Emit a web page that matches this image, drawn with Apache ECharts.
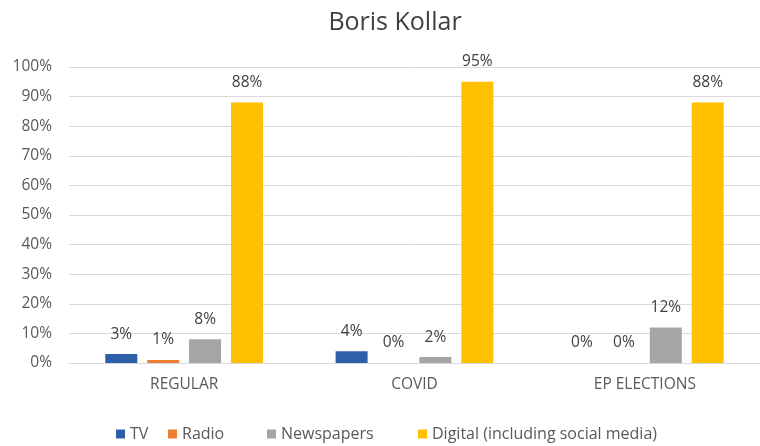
<!DOCTYPE html>
<html>
<head>
<meta charset="utf-8">
<script src="https://cdn.jsdelivr.net/npm/echarts@6/dist/echarts.min.js"></script>
<style>html,body{margin:0;padding:0;background:#fff}#c{width:760px;height:446px}</style>
</head>
<body>
<div id="c"></div>
<script>
var title = 'Boris Kollar';
var categories = ['REGULAR', 'COVID', 'EP ELECTIONS'];
var seriesNames = ['TV', 'Radio', 'Newspapers', 'Digital (including social media)'];
var tv = [3, 4, 0];
var radio = [1, 0, 0];
var newspapers = [8, 2, 12];
var digital = [88, 95, 88];
var yTicks = [0, 10, 20, 30, 40, 50, 60, 70, 80, 90, 100];

var colors = ['#2F5FA8', '#ED7D31', '#A5A5A5', '#FFC000'];
var font = '"Open Sans", sans-serif';
var values = [tv, radio, newspapers, digital];
var legendLeft = [111, 163, 262, 413];

var chart = echarts.init(document.getElementById('c'), null, {renderer: 'canvas'});
chart.setOption({
  animation: false,
  color: colors,
  title: {
    text: title, left: 390, textAlign: 'center', top: 5,
    textStyle: {fontFamily: font, fontSize: 25, fontWeight: 'normal', color: '#404040'}
  },
  legend: seriesNames.map(function (n, i) {
    return {
      data: [n], left: legendLeft[i], top: 421,
      itemWidth: 9, itemHeight: 9, itemGap: 6, icon: 'rect',
      textStyle: {fontFamily: font, fontSize: 16, color: '#595959'}
    };
  }),
  grid: {left: 69, top: 67, width: 700, height: 296, containLabel: false},
  xAxis: {
    type: 'category', data: categories,
    axisLine: {lineStyle: {color: '#d9d9d9'}},
    axisTick: {show: false},
    axisLabel: {fontFamily: font, fontSize: 15.5, color: '#595959', margin: 14}
  },
  yAxis: {
    type: 'value', min: yTicks[0], max: yTicks[yTicks.length - 1], interval: 10,
    axisLine: {show: false}, axisTick: {show: false},
    splitLine: {lineStyle: {color: '#d9d9d9'}},
    axisLabel: {fontFamily: font, fontSize: 15.5, color: '#595959', margin: 17, formatter: '{value}%'}
  },
  series: seriesNames.map(function (n, i) {
    return {
      name: n, type: 'bar', data: values[i],
      barWidth: 32, barGap: '31%',
      label: {show: true, position: 'top', distance: 12, formatter: '{c}%',
        fontFamily: font, fontSize: 15.5, color: '#404040'}
    };
  })
});
</script>
</body>
</html>
